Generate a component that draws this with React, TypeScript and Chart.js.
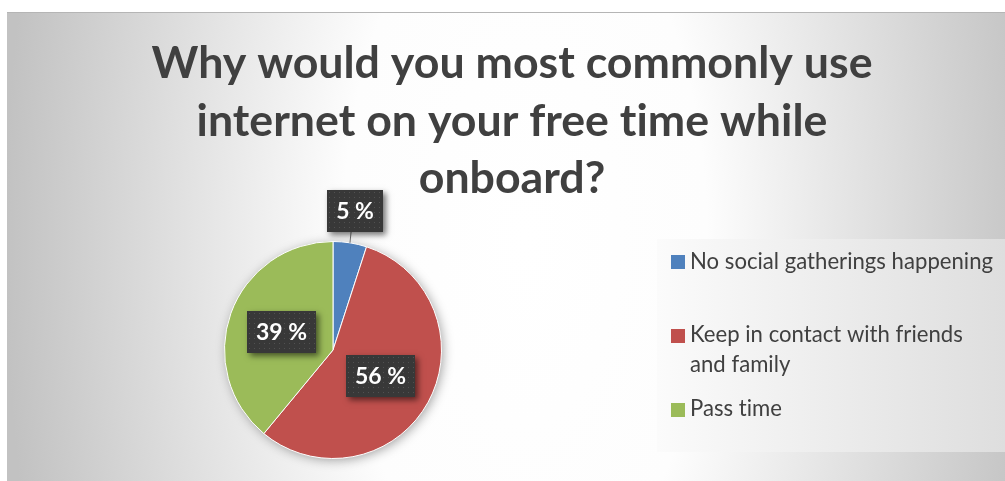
import React, { useEffect, useRef } from "react";
import { Chart, registerables } from "chart.js";

Chart.register(...registerables);

// ---- data ----
const categories = [
  "No social gatherings happening",
  "Keep in contact with friends and family",
  "Pass time",
];
const legendLines = [
  ["No social gatherings happening"],
  ["Keep in contact with friends", "and family"],
  ["Pass time"],
];
const values = [5, 56, 39];
const percentLabels = ["5 %", "56 %", "39 %"];
const colors = ["#4f81bd", "#c0504d", "#9bbb59"];
const titleLines = [
  "Why would you most commonly use",
  "internet on your free time while",
  "onboard?",
];

const W = 1005;
const H = 481;
const TEXT = "#404040";

function noLig(ctx: CanvasRenderingContext2D) {
  try {
    (ctx as any).letterSpacing = "0.01px";
  } catch (e) {}
}

function fitSize(ctx: CanvasRenderingContext2D, text: string, weight: string, family: string, target: number) {
  ctx.font = `${weight} 100px ${family}`;
  noLig(ctx);
  const w = ctx.measureText(text).width;
  return (100 * target) / w;
}

const decorPlugin = {
  id: "decor",
  beforeDraw(chart: any) {
    const ctx: CanvasRenderingContext2D = chart.ctx;
    ctx.save();
    ctx.fillStyle = "#ffffff";
    ctx.fillRect(0, 0, W, H);

    // chart area background (elliptical radial gradient)
    ctx.save();
    ctx.beginPath();
    ctx.rect(7, 12, W - 7, H - 12);
    ctx.clip();
    ctx.translate(525, 240);
    ctx.scale(1, 2);
    const g = ctx.createRadialGradient(0, 0, 0, 0, 0, 520);
    g.addColorStop(0, "#ffffff");
    g.addColorStop(0.35, "#fdfdfd");
    g.addColorStop(1, "#c2c2c2");
    ctx.fillStyle = g;
    ctx.fillRect(-600, -200, 1200, 400);
    ctx.restore();

    ctx.strokeStyle = "#b5b5b5";
    ctx.lineWidth = 1;
    ctx.beginPath();
    ctx.moveTo(7, 12.5);
    ctx.lineTo(W, 12.5);
    ctx.stroke();

    // legend box
    const lg = ctx.createLinearGradient(657, 0, W, 0);
    lg.addColorStop(0, "#fbfbfb");
    lg.addColorStop(1, "#dedede");
    ctx.fillStyle = lg;
    ctx.fillRect(657, 239, W - 657, 213);

    // title
    const tSize = fitSize(ctx, titleLines[0], "bold", "Lato", 721);
    ctx.font = `bold ${tSize}px Lato`;
    noLig(ctx);
    ctx.fillStyle = TEXT;
    ctx.textAlign = "center";
    ctx.textBaseline = "alphabetic";
    const baselines = [78, 136, 193];
    titleLines.forEach((t, i) => ctx.fillText(t, 512, baselines[i]));

    // legend
    const lSize = fitSize(ctx, legendLines[0][0], "normal", "Lato", 303);
    ctx.font = `normal ${lSize}px Lato`;
    noLig(ctx);
    ctx.textAlign = "left";
    const squareTops = [255, 329, 403];
    const textBase = [[269], [342, 372], [416]];
    legendLines.forEach((lines, i) => {
      ctx.fillStyle = colors[i];
      ctx.fillRect(671, squareTops[i], 14, 14);
      ctx.fillStyle = TEXT;
      lines.forEach((ln, j) => ctx.fillText(ln, 690, textBase[i][j]));
    });
    ctx.restore();
  },
  beforeDatasetsDraw(chart: any) {
    const ctx: CanvasRenderingContext2D = chart.ctx;
    const arc = chart.getDatasetMeta(0).data[0];
    if (!arc) return;
    const { x, y, outerRadius } = arc.getProps(["x", "y", "outerRadius"], true);
    ctx.save();
    ctx.shadowColor = "rgba(0,0,0,0.4)";
    ctx.shadowBlur = 12;
    ctx.shadowOffsetX = 2;
    ctx.shadowOffsetY = 2;
    ctx.fillStyle = "#888";
    ctx.beginPath();
    ctx.arc(x, y, outerRadius - 1, 0, Math.PI * 2);
    ctx.fill();
    ctx.restore();
  },
  afterDatasetsDraw(chart: any) {
    const ctx: CanvasRenderingContext2D = chart.ctx;
    const arcs = chart.getDatasetMeta(0).data;
    const size = fitSize(ctx, "56 %", "bold", "Lato", 51);
    arcs.forEach((arc: any, i: number) => {
      const { x, y, startAngle, endAngle, outerRadius } = arc.getProps(
        ["x", "y", "startAngle", "endAngle", "outerRadius"],
        true
      );
      const mid = (startAngle + endAngle) / 2;
      const f = i === 0 ? 1.3 : 0.5;
      const cx = x + Math.cos(mid) * outerRadius * f;
      const cy = y + Math.sin(mid) * outerRadius * f;
      ctx.save();
      ctx.font = `bold ${size}px Lato`;
      noLig(ctx);
      const tw = ctx.measureText(percentLabels[i]).width;
      const bw = Math.round(tw + 18);
      const bh = 42;
      const bx = Math.round(cx - bw / 2);
      const by = Math.round(cy - bh / 2);

      if (i === 0) {
        ctx.strokeStyle = "#6f6f6f";
        ctx.lineWidth = 1;
        ctx.beginPath();
        ctx.moveTo(x + Math.cos(mid) * outerRadius, y + Math.sin(mid) * outerRadius);
        ctx.lineTo(cx - 4, by + bh);
        ctx.stroke();
      }

      ctx.shadowColor = "rgba(0,0,0,0.55)";
      ctx.shadowBlur = 6;
      ctx.shadowOffsetX = 3;
      ctx.shadowOffsetY = 3;
      ctx.fillStyle = "#383838";
      ctx.fillRect(bx, by, bw, bh);
      ctx.shadowColor = "transparent";
      ctx.shadowBlur = 0;
      ctx.shadowOffsetX = 0;
      ctx.shadowOffsetY = 0;
      ctx.fillStyle = "rgba(255,255,255,0.13)";
      for (let px = bx + 2; px < bx + bw; px += 5) {
        for (let py = by + 2; py < by + bh; py += 5) {
          ctx.fillRect(px, py, 1, 1);
        }
      }
      ctx.fillStyle = "#ffffff";
      ctx.textAlign = "center";
      ctx.textBaseline = "middle";
      ctx.fillText(percentLabels[i], bx + bw / 2, by + bh / 2 + 1);
      ctx.restore();
    });
  },
};

export default function App() {
  const ref = useRef<HTMLCanvasElement | null>(null);
  useEffect(() => {
    if (!ref.current) return;
    const chart = new Chart(ref.current, {
      type: "pie",
      data: {
        labels: categories,
        datasets: [
          {
            data: values,
            backgroundColor: colors,
            borderColor: "#ffffff",
            borderWidth: 1,
          },
        ],
      },
      options: {
        responsive: false,
        animation: false,
        events: [],
        layout: { padding: { left: 224, top: 241, right: W - 442, bottom: H - 459 } },
        plugins: {
          legend: { display: false },
          tooltip: { enabled: false },
          title: { display: false },
        },
      },
      plugins: [decorPlugin],
    });
    let alive = true;
    (document as any).fonts?.ready?.then(() => {
      if (alive) chart.update();
    });
    return () => {
      alive = false;
      chart.destroy();
    };
  }, []);
  return (
    <div style={{ position: "absolute", left: 0, top: 0, width: W, height: H }}>
      <canvas ref={ref} width={W} height={H} style={{ display: "block" }} />
    </div>
  );
}
